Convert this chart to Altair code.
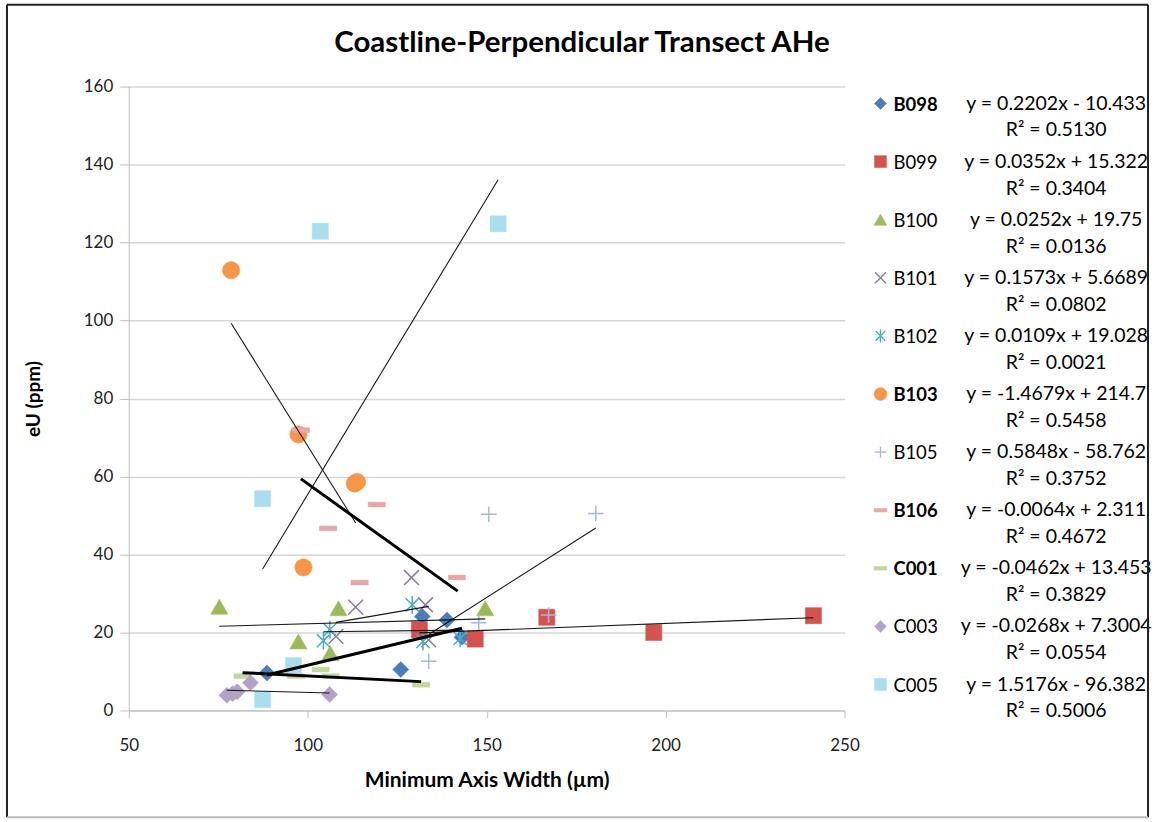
import altair as alt
import pandas as pd

# ---------------- data ----------------
chart_title = ["Coastline-Perpendicular Transect AHe"]
series = ["B098", "B099", "B100", "B101", "B102", "B103", "B105", "B106", "C001", "C003", "C005"]
bold_labels = ["B098", "B103", "B106", "C001"]
bold_trends = ["B098", "B106", "C001"]

equations = [
    "y = 0.2202x - 10.433", "y = 0.0352x + 15.322", "y = 0.0252x + 19.75",
    "y = 0.1573x + 5.6689", "y = 0.0109x + 19.028", "y = -1.4679x + 214.7",
    "y = 0.5848x - 58.762", "y = -0.0064x + 2.311", "y = -0.0462x + 13.453",
    "y = -0.0268x + 7.3004", "y = 1.5176x - 96.382",
]
r_squared = [
    "R² = 0.5130", "R² = 0.3404", "R² = 0.0136", "R² = 0.0802", "R² = 0.0021",
    "R² = 0.5458", "R² = 0.3752", "R² = 0.4672", "R² = 0.3829", "R² = 0.0554",
    "R² = 0.5006",
]

b098_x = [88.6, 126.0, 132.0, 138.9, 143.1]
b098_y = [9.6, 10.5, 24.1, 23.2, 18.8]
b099_x = [131.2, 146.8, 166.8, 196.7, 241.3]
b099_y = [20.7, 18.3, 23.9, 20.0, 24.3]
b100_x = [75.3, 97.4, 106.3, 108.6, 149.6]
b100_y = [26.6, 17.7, 14.7, 26.2, 26.2]
b101_x = [107.9, 113.4, 129.0, 132.9, 133.8]
b101_y = [19.0, 26.5, 34.1, 27.1, 18.1]
b102_x = [104.4, 106.2, 129.2, 132.2, 142.6]
b102_y = [17.9, 20.7, 27.1, 17.7, 18.5]
b103_x = [78.6, 97.4, 98.8, 113.1, 113.8]
b103_y = [112.9, 70.8, 36.7, 58.2, 58.6]
b105_x = [133.8, 147.8, 150.6, 167.3, 180.5]
b105_y = [12.6, 22.5, 50.3, 24.5, 50.5]
b106_x = [98.1, 105.7, 114.5, 119.3, 141.7]
b106_y = [71.9, 46.7, 32.8, 52.8, 34.1]
c001_x = [81.8, 96.7, 103.6, 106.4, 131.7]
c001_y = [8.8, 8.8, 10.5, 8.8, 6.6]
c003_x = [77.4, 79.0, 80.3, 84.0, 106.1]
c003_y = [3.9, 4.3, 4.8, 7.1, 4.1]
c005_x = [87.4, 87.4, 96.0, 103.5, 153.2]
c005_y = [2.8, 54.3, 11.5, 122.9, 124.8]

# trendline end points (x start, y start, x end, y end) as drawn
trend_x1 = [88.6, 131.2, 75.3, 107.9, 104.4, 78.6, 133.8, 98.1, 81.8, 77.4, 87.4]
trend_y1 = [9.1, 19.9, 21.6, 22.6, 20.2, 99.3, 19.5, 59.4, 9.7, 5.2, 36.3]
trend_x2 = [143.1, 241.3, 149.6, 133.8, 142.6, 113.4, 180.5, 141.9, 131.7, 106.1, 153.2]
trend_y2 = [21.1, 23.8, 23.5, 26.7, 20.6, 48.1, 46.8, 30.6, 7.4, 4.5, 136.1]

xs = [b098_x, b099_x, b100_x, b101_x, b102_x, b103_x, b105_x, b106_x, c001_x, c003_x, c005_x]
ys = [b098_y, b099_y, b100_y, b101_y, b102_y, b103_y, b105_y, b106_y, c001_y, c003_y, c005_y]

rows = []
for s, xv, yv in zip(series, xs, ys):
    for a, b in zip(xv, yv):
        rows.append({"series": s, "x": a, "y": b})
pts = pd.DataFrame(rows)

trend = pd.DataFrame({"series": series, "x1": trend_x1, "y1": trend_y1,
                      "x2": trend_x2, "y2": trend_y2})
trend["bold"] = trend["series"].isin(bold_trends)

leg = pd.DataFrame({"series": series, "idx": list(range(len(series))),
                    "eq": equations, "r2": r_squared})
leg["bold"] = leg["series"].isin(bold_labels)

# ---------------- styles ----------------
FONT = "Lato"
X_PATH = "M-1,-1L1,1M-1,1L1,-1"
AST_PATH = "M-0.85,-0.85L0.85,0.85M-0.85,0.85L0.85,-0.85M0,-1.15L0,1.15"
PLUS_PATH = "M-1,0L1,0M0,-1L0,1"
DASH_PATH = "M-1,-0.28L1,-0.28L1,0.28L-1,0.28Z"

style = {
    "B098": dict(shape="diamond", filled=True, color="#4A7EBB", size=260),
    "B099": dict(shape="square", filled=True, color="#D4534F", size=260),
    "B100": dict(shape="triangle-up", filled=True, color="#9BBB59", size=300),
    "B101": dict(shape=X_PATH, filled=False, color="#8B74B3", size=220, strokeWidth=1.5),
    "B102": dict(shape=AST_PATH, filled=False, color="#4BACC6", size=240, strokeWidth=1.5),
    "B103": dict(shape="circle", filled=True, color="#F79646", size=300),
    "B105": dict(shape=PLUS_PATH, filled=False, color="#A3B8DA", size=240, strokeWidth=1.5),
    "B106": dict(shape=DASH_PATH, filled=True, color="#E6A7A6", size=300),
    "C001": dict(shape=DASH_PATH, filled=True, color="#C3D69B", size=300),
    "C003": dict(shape="diamond", filled=True, color="#B3A2C7", size=260),
    "C005": dict(shape="square", filled=True, color="#A9DEEE", size=260),
}

W, H = 717, 625
xscale = alt.Scale(domain=[50, 250], nice=False, zero=False)
yscale = alt.Scale(domain=[0, 160], nice=False, zero=False)
legscale = alt.Scale(domain=[-0.292, 10.447], reverse=True, nice=False, zero=False)

x_axis = alt.Axis(title="Minimum Axis Width (µm)", values=[50, 100, 150, 200, 250],
                  grid=False, tickSize=7, tickColor="#BFBFBF", domainColor="#BFBFBF",
                  labelFont=FONT, labelFontSize=17, labelColor="#222", labelFlush=False,
                  labelPadding=20, titleFont=FONT, titleFontSize=21,
                  titleFontWeight="bold", titleColor="#000", titlePadding=16)
y_axis = alt.Axis(title="eU (ppm)", values=[0, 20, 40, 60, 80, 100, 120, 140, 160],
                  grid=True, gridColor="#D6D6D6", gridWidth=1.5,
                  tickSize=9, tickColor="#BFBFBF", domainColor="#BFBFBF",
                  labelFont=FONT, labelFontSize=17, labelColor="#222",
                  labelPadding=7, titleFont=FONT, titleFontSize=19,
                  titleFontWeight="bold", titleColor="#000", titlePadding=40)

layers = []

# axes holder
axis_layer = alt.Chart(pts).mark_point(opacity=0).encode(
    x=alt.X("x:Q", scale=xscale, axis=x_axis),
    y=alt.Y("y:Q", scale=yscale, axis=y_axis),
)
layers.append(axis_layer)

for s in series:
    st = style[s]
    kw = dict(shape=st["shape"], filled=st["filled"], size=st["size"], opacity=1)
    if st["filled"]:
        kw["fill"] = st["color"]
        kw["stroke"] = st["color"]
        kw["strokeWidth"] = 0.5
    else:
        kw["stroke"] = st["color"]
        kw["strokeWidth"] = st.get("strokeWidth", 1.5)
    layers.append(
        alt.Chart(pts).transform_filter(alt.datum.series == s).mark_point(**kw).encode(
            x=alt.X("x:Q", scale=xscale, axis=x_axis),
            y=alt.Y("y:Q", scale=yscale, axis=None),
        )
    )

for is_bold, sw in [(False, 1.1), (True, 3.0)]:
    layers.append(
        alt.Chart(trend).transform_filter(alt.datum.bold == is_bold)
        .mark_rule(color="#000", strokeWidth=sw, opacity=0.9 if not is_bold else 1)
        .encode(
            x=alt.X("x1:Q", scale=xscale, axis=x_axis), x2="x2:Q",
            y=alt.Y("y1:Q", scale=yscale, axis=None), y2="y2:Q",
        )
    )

# ---------------- legend ----------------
LEG_SYM_X = 753
LEG_LBL_X = 766
LEG_EQ_X = 929
for s in series:
    st = style[s]
    kw = dict(shape=st["shape"], filled=st["filled"], size=st["size"] * 0.55, opacity=1)
    if st["filled"]:
        kw["fill"] = st["color"]
        kw["stroke"] = st["color"]
        kw["strokeWidth"] = 0.5
    else:
        kw["stroke"] = st["color"]
        kw["strokeWidth"] = 1.3
    layers.append(
        alt.Chart(leg).transform_filter(alt.datum.series == s).mark_point(**kw).encode(
            x=alt.value(LEG_SYM_X),
            y=alt.Y("idx:Q", scale=legscale, axis=None),
        )
    )

for is_bold in [False, True]:
    layers.append(
        alt.Chart(leg).transform_filter(alt.datum.bold == is_bold)
        .mark_text(align="left", baseline="middle", font=FONT, fontSize=18.5,
                   fontWeight="bold" if is_bold else "normal", color="#000", dy=1)
        .encode(x=alt.value(LEG_LBL_X), y=alt.Y("idx:Q", scale=legscale, axis=None),
                text="series:N")
    )

layers.append(
    alt.Chart(leg).mark_text(align="center", baseline="middle", font=FONT, fontSize=19.5, color="#000")
    .encode(x=alt.value(LEG_EQ_X), y=alt.Y("idx:Q", scale=legscale, axis=None), text="eq:N")
)
layers.append(
    alt.Chart(leg).mark_text(align="center", baseline="middle", font=FONT, fontSize=19.5,
                             color="#000", dy=27)
    .encode(x=alt.value(LEG_EQ_X), y=alt.Y("idx:Q", scale=legscale, axis=None), text="r2:N")
)

# ---------------- title ----------------
title_df = pd.DataFrame({"t": chart_title})
layers.append(
    alt.Chart(title_df).mark_text(align="center", baseline="middle", font=FONT, fontSize=29.5,
                                  fontWeight="bold", color="#000")
    .encode(x=alt.value(454), y=alt.value(-44), text="t:N")
)

# ---------------- outer frame ----------------
one = pd.DataFrame({"k": [0]})
FL, FR, FT, FB = -122, 1021, -82, 732
layers.append(alt.Chart(one).mark_rule(color="#222", strokeWidth=2).encode(
    x=alt.value(FL), x2=alt.value(FR), y=alt.value(FT)))
layers.append(alt.Chart(one).mark_rule(color="#222", strokeWidth=2).encode(
    x=alt.value(FL), y=alt.value(FT), y2=alt.value(FB)))
layers.append(alt.Chart(one).mark_rule(color="#222", strokeWidth=2).encode(
    x=alt.value(FR), y=alt.value(FT), y2=alt.value(FB)))
layers.append(alt.Chart(one).mark_rule(color="#BBBBBB", strokeWidth=2).encode(
    x=alt.value(FL), x2=alt.value(FR), y=alt.value(FB)))

chart = alt.layer(*layers).resolve_scale(y="independent").properties(
    width=W, height=H,
    padding={"left": 6, "top": 3, "right": 5, "bottom": 3},
    background="white",
).configure_view(strokeWidth=0).configure_axis(
    titleFont=FONT, titleFontWeight="bold", titleColor="#000",
    labelFont=FONT, labelFontSize=17,
)

chart.save("out.html", embed_options={"renderer": "svg", "actions": False})
